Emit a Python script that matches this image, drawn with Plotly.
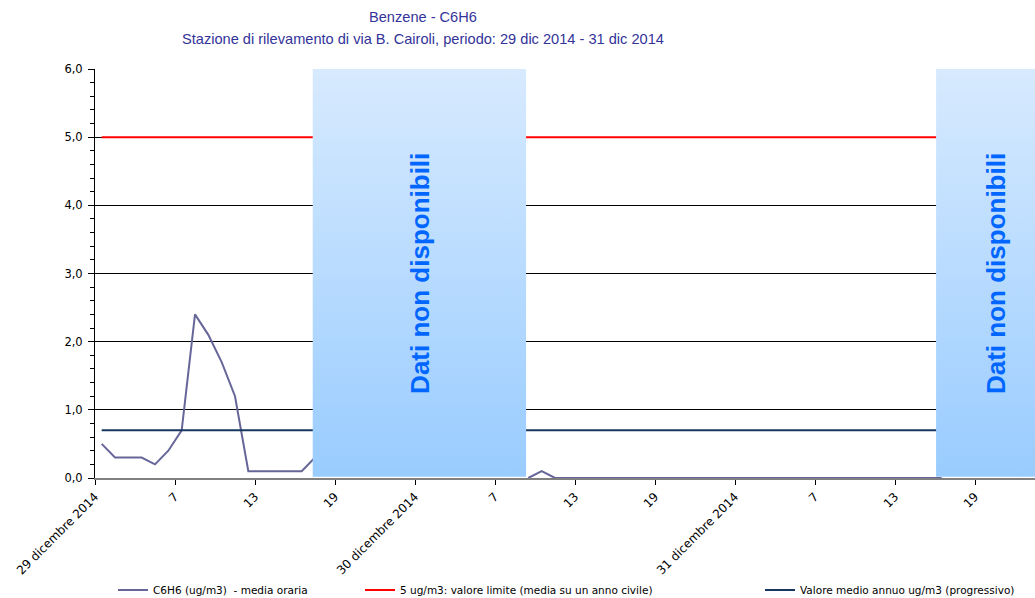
import plotly.graph_objects as go

# ---------------- data ----------------
hours = list(range(72))  # hourly categories, 29-31 Dec 2014
c6h6 = ([0.5, 0.3, 0.3, 0.3, 0.2, 0.4, 0.7, 2.4, 2.1, 1.7, 1.2,
         0.1, 0.1, 0.1, 0.1, 0.1, 0.3]
        + [None] * 15
        + [0.0, 0.1]
        + [0.0] * 30
        + [None] * 8)
limit_value = 5.0
annual_mean = 0.7
tick_hours = [0, 6, 12, 18, 24, 30, 36, 42, 48, 54, 60, 66]
tick_text = ["29 dicembre 2014", "7", "13", "19",
             "30 dicembre 2014", "7", "13", "19",
             "31 dicembre 2014", "7", "13", "19"]
nodata_start = [16.33, 63.08]
nodata_end = [32.33, 72.0]
nodata_label = "Dati non disponibili"
series_names = ["C6H6 (ug/m3)  - media oraria",
                "5 ug/m3: valore limite (media su un anno civile)",
                "Valore medio annuo ug/m3 (progressivo)"]
title_lines = ["Benzene - C6H6",
               "Stazione di rilevamento di via B. Cairoli, periodo: 29 dic 2014 - 31 dic 2014"]

# ---------------- figure ----------------
W, H = 1035, 598
ML, MR, MT, MB = 95, 0, 69, 120
PW, PH = W - ML - MR, H - MT - MB
x_c = [h + 0.5 for h in hours]

def px_x(px):
    return (px - ML) / PW

def px_y(py):
    return (H - MB - py) / PH

fig = go.Figure()

fig.add_trace(go.Scatter(x=x_c, y=c6h6, mode="lines", name=series_names[0],
                         line=dict(color="#666699", width=2), legend="legend",
                         connectgaps=False))
fig.add_trace(go.Scatter(x=[x_c[0], x_c[-1]], y=[limit_value, limit_value], mode="lines",
                         name=series_names[1], line=dict(color="#ff0000", width=2),
                         legend="legend2"))
fig.add_trace(go.Scatter(x=[x_c[0], x_c[-1]], y=[annual_mean, annual_mean], mode="lines",
                         name=series_names[2], line=dict(color="#17375e", width=2),
                         legend="legend3"))

YMAX = 6.0
for s, e in zip(nodata_start, nodata_end):
    fig.add_trace(go.Scatter(
        x=[s, e, e, s, s], y=[0.02, 0.02, YMAX, YMAX, 0.02], mode="lines",
        line=dict(width=0), fill="toself", showlegend=False, hoverinfo="skip",
        fillgradient=dict(type="vertical",
                          colorscale=[[0, "#99ccff"], [1, "#d7eafe"]])))
    fig.add_annotation(x=(s + e) / 2, y=YMAX / 2, text="<b>" + nodata_label + "</b>",
                       textangle=-90, showarrow=False,
                       font=dict(family="Liberation Sans, Arial", size=26, color="#0066ff"))

for txt, py in zip(title_lines, [17, 39]):
    fig.add_annotation(x=px_x(423), y=px_y(py), xref="paper", yref="paper",
                       xanchor="center", yanchor="middle", showarrow=False, text=txt,
                       font=dict(family="Liberation Sans, Arial", size=14.6, color="#333399"))

def legend_at(px):
    return dict(orientation="h", x=px_x(px), xanchor="left",
                y=px_y(590), yanchor="middle",
                bgcolor="rgba(0,0,0,0)", font=dict(family="DejaVu Sans, Verdana",
                                                    size=10.5, color="#000000"),
                itemwidth=30, tracegroupgap=0)

fig.update_layout(
    width=W, height=H,
    margin=dict(l=ML, r=MR, t=MT, b=MB, pad=0, autoexpand=False),
    paper_bgcolor="white", plot_bgcolor="white",
    separators=",.",
    showlegend=True,
    legend=legend_at(113),
    legend2=legend_at(360),
    legend3=legend_at(760),
    xaxis=dict(range=[0, 70.5], tickmode="array", tickvals=tick_hours, ticktext=tick_text,
               tickangle=-45, ticks="outside", ticklen=5, tickcolor="#000000",
               showline=True, linecolor="#808080", linewidth=2,
               showgrid=False, zeroline=False, layer="below traces",
               tickfont=dict(family="DejaVu Sans, Verdana", size=12, color="#000000")),
    yaxis=dict(range=[0, YMAX], dtick=1, tickformat=".1f", ticks="outside", ticklen=6,
               tickcolor="#000000", showline=True, linecolor="#000000", linewidth=1,
               showgrid=True, gridcolor="#000000", gridwidth=1, zeroline=False,
               ticklabelstandoff=3,
               minor=dict(dtick=0.2, ticks="outside", ticklen=4, tickcolor="#000000",
                          showgrid=False),
               tickfont=dict(family="DejaVu Sans, Verdana", size=11.5, color="#000000")),
)

fig.write_html("out.html", config={"displayModeBar": False},
               post_script="document.body.style.margin='0';document.body.style.overflow='hidden';")
